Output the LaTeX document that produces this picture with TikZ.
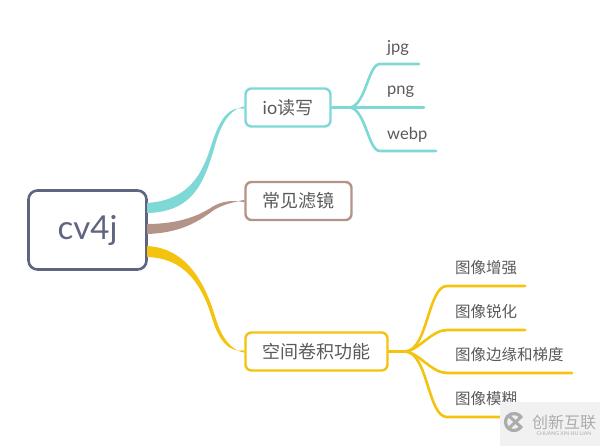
\documentclass[tikz,border=0pt]{standalone}
\usepackage{fontspec}
\setmainfont{Lato}
\newfontfamily\cjk{Noto Sans CJK SC}
\definecolor{rootc}{HTML}{5F6580}
\definecolor{tealc}{HTML}{7DD8D6}
\definecolor{brownc}{HTML}{B49488}
\definecolor{yellowc}{HTML}{F3C30F}
\definecolor{textc}{HTML}{5A5A5A}
\definecolor{markc}{HTML}{F1F1F1}
\definecolor{logoc}{HTML}{ACACAC}
\tikzset{
  rootbox/.style={draw=rootc,line width=2.6pt,rounded corners=9pt,fill=white,inner sep=0pt,
    minimum width=118pt,minimum height=79pt,text=rootc,font=\fontsize{33}{33}\selectfont},
  topicbox/.style={line width=2.4pt,rounded corners=6pt,fill=white,inner sep=0pt,
    minimum height=38pt,text=textc,font=\cjk\fontsize{18}{18}\selectfont},
  leaf/.style={anchor=west,inner sep=0pt,text=textc,font=\cjk\fontsize{15.5}{15.5}\selectfont},
  leaflatin/.style={anchor=west,inner sep=0pt,text=textc,font=\fontsize{16.5}{16.5}\selectfont},
  branch/.style={line width=2.6pt,line cap=round},
}
\begin{document}
\begin{tikzpicture}[x=1pt,y=-1pt]
\useasboundingbox (0,0) rectangle (600,446);

% main topics
\node[rootbox] (root) at (87.5,230) {cv4j};
\node[topicbox,draw=tealc,minimum width=85pt] (io) at (288,107.5) {\rmfamily io\cjk 读写};
\node[topicbox,draw=brownc,minimum width=106pt] (filter) at (298.5,201) {常见滤镜};
\node[topicbox,draw=yellowc,minimum width=142pt] (conv) at (316.5,351.5) {空间卷积功能};

% subtopics of io
\node[leaflatin] (jpg) at (387,47.5) {jpg};
\node[leaflatin] (png) at (387,91.5) {png};
\node[leaflatin] (webp) at (387,134.5) {webp};
% subtopics of conv
\node[leaf] (enhance) at (455,268) {图像增强};
\node[leaf] (sharpen) at (455,312) {图像锐化};
\node[leaf] (edge) at (455,355) {图像边缘和梯度};
\node[leaf] (blur) at (455,399) {图像模糊};

% tapered connectors
\coordinate (ta) at (147,203);
\coordinate (tb) at (147,213);
\coordinate (ba) at (147,224);
\coordinate (bb) at (147,234);
\coordinate (ya) at (147,246);
\coordinate (yb) at (147,257);
\fill[tealc] (ta) .. controls (195,200) and (205,165) .. (213,140) .. controls (221,117) and (230,106) .. ([yshift=-1.2pt]io.west)
  -- ([yshift=1.2pt]io.west) .. controls (232,109) and (223,119) .. (216,142) .. controls (205,180) and (195,212) .. (tb) -- cycle;
\fill[brownc] (ba) .. controls (180,224) and (200,215) .. (212,207) .. controls (222,201) and (232,199.8) .. ([yshift=-1.2pt]filter.west)
  -- ([yshift=1.2pt]filter.west) .. controls (234,202.2) and (224,204) .. (214,210) .. controls (198,222) and (180,233) .. (bb) -- cycle;
\fill[yellowc] (ya) .. controls (185,248) and (204,280) .. (215,316) .. controls (222,340) and (232,350.3) .. ([yshift=-1.2pt]conv.west)
  -- ([yshift=1.2pt]conv.west) .. controls (230,352.7) and (219,342) .. (212,318) .. controls (202,285) and (185,258) .. (yb) -- cycle;

% forks
\coordinate (iofork) at (350,107.5);
\coordinate (convfork) at (406,351.5);
\coordinate (jpgend) at (419,64);
\coordinate (pngend) at (424,107.5);
\coordinate (webpend) at (436,151);
\coordinate (enhanceend) at (525,286);
\coordinate (sharpenend) at (525,330);
\coordinate (edgeend) at (572,373);
\coordinate (blurend) at (510,417);

\draw[branch,tealc] (io.east) -- (iofork);
\draw[branch,tealc] (iofork) .. controls (366,105) and (368,64) .. (380,64) -- (jpgend);
\draw[branch,tealc] (iofork) -- (pngend);
\draw[branch,tealc] (iofork) .. controls (366,110) and (368,151) .. (380,151) -- (webpend);

\draw[branch,yellowc] (conv.east) -- (convfork);
\draw[branch,yellowc] (convfork) .. controls (428,349) and (428,286) .. (447,286) -- (enhanceend);
\draw[branch,yellowc] (convfork) .. controls (420,349) and (432,330) .. (447,330) -- (sharpenend);
\draw[branch,yellowc] (convfork) .. controls (420,354) and (432,373) .. (447,373) -- (edgeend);
\draw[branch,yellowc] (convfork) .. controls (428,354) and (428,417) .. (447,417) -- (blurend);

% watermark
\fill[markc] (500,402) rectangle (600,446);
\coordinate (logo) at (514,422);
\draw[logoc,line width=3.2pt] (logo) ++(40:8.5) arc[start angle=40,end angle=320,radius=8.5];
\draw[logoc,line width=3pt] (509,416) -- (522,428);
\draw[logoc,line width=3pt] (509,428) -- (522,416);
\node[inner sep=0pt,text=logoc,font=\cjk\fontsize{16}{16}\selectfont] (markcn) at (564,422.5) {创新互联};
\node[inner sep=0pt,text=logoc,font=\fontsize{5.2}{5.2}\selectfont] (markpy) at (564,433.5) {CHUANG XIN HU LIAN};
\end{tikzpicture}
\end{document}
